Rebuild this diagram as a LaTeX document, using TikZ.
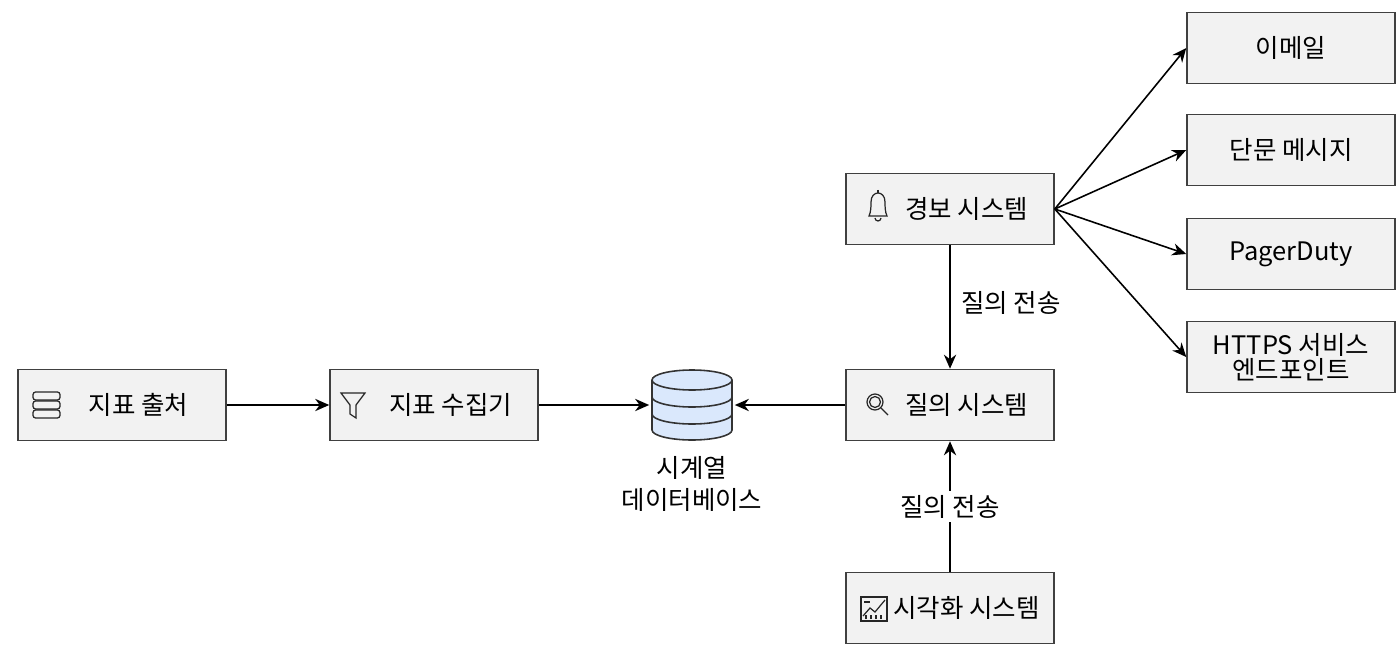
\documentclass[tikz,border=0pt]{standalone}
\usepackage{fontspec}
\setmainfont{Noto Sans CJK KR}
\usetikzlibrary{arrows.meta}
\definecolor{dbfill}{HTML}{DAE8FC}
\begin{document}
\begin{tikzpicture}[x=0.02cm,y=-0.02cm,
  box/.style={draw=black!75,fill=black!5,line width=0.9pt,minimum width=4.16cm,minimum height=1.42cm,font=\fontsize{14.5}{16}\selectfont,align=center},
  arr/.style={-{Stealth[length=8pt,width=7pt]},line width=0.9pt},
  lbl/.style={font=\fontsize{14.5}{16}\selectfont,fill=white,inner sep=2pt},
  ic/.style={line width=0.7pt,black!85}]
\useasboundingbox (0,0) rectangle (1398,662);
\node[box] (src) at (122,405) {\hspace{1.3em}지표 출처};
\node[box] (col) at (434,405) {\hspace{1.3em}지표 수집기};
\node[box] (qry) at (950,405) {\hspace{1.3em}질의 시스템};
\node[box] (alr) at (950,209) {\hspace{1.3em}경보 시스템};
\node[box] (vis) at (950,608) {\hspace{1.3em}시각화 시스템};
\node[box] (em) at (1291,48) {이메일};
\node[box] (sms) at (1291,150) {단문 메시지};
\node[box] (pd) at (1291,254) {PagerDuty};
\node[box] (http) at (1291,357) {HTTPS 서비스\\[-2pt]엔드포인트};
% database
\begin{scope}[line width=0.9pt,draw=black!80,fill=dbfill]
 \filldraw (652,380) -- (652,430) arc[start angle=180,end angle=360,x radius=40,y radius=-10] -- (732,380);
 \filldraw (692,380) ellipse [x radius=40,y radius=10];
 \draw (652,397) arc[start angle=180,end angle=360,x radius=40,y radius=-10];
 \draw (652,414) arc[start angle=180,end angle=360,x radius=40,y radius=-10];
\end{scope}
\node (dbl) at (692,484) [font=\fontsize{14.5}{18}\selectfont,align=center] {시계열\\데이터베이스};
\node (dbn) at (692,405) [minimum width=1.7cm,minimum height=1.4cm] {};
% icons
\begin{scope}[ic]
 \foreach \yy in {396,405,414} \draw[rounded corners=1.5pt] (33,\yy-4) rectangle (60,\yy+4);
 \draw (341,393) -- (365,393) -- (356,405) -- (356,418) -- (350,414) -- (350,405) -- cycle;
 \draw (869,216) .. controls (871,212) and (871,206) .. (871,202) .. controls (871,190) and (885,190) .. (885,202) .. controls (885,206) and (885,212) .. (887,216) -- cycle;
 \draw (875,218) arc[start angle=180,end angle=0,radius=3];
 \draw (878,190) -- (878,193);
 \draw (875,402) circle (8); \draw (875,402) circle (5.5); \draw (881,408) -- (888,415);
 \draw (861,597) rectangle (887,621);
 \draw (863,616) -- (870,608) -- (875,612) -- (885,600);
 \foreach \xx in {866,871,876,881} \draw (\xx,619) -- (\xx,615);
 \draw (864,602) -- (870,602);
\end{scope}
% arrows
\draw[arr] (src) -- (col);
\draw[arr] (col.east) -- (dbn.west);
\draw[arr] (qry.west) -- (dbn.east);
\draw[arr] (alr) -- (qry) node[lbl,pos=0.47,right=4pt,fill=none] {질의 전송};
\draw[arr] (vis) -- (qry) node[lbl,pos=0.5] {질의 전송};
\foreach \t in {em,sms,pd,http} \draw[arr] (alr.east) -- (\t.west);
\end{tikzpicture}
\end{document}
